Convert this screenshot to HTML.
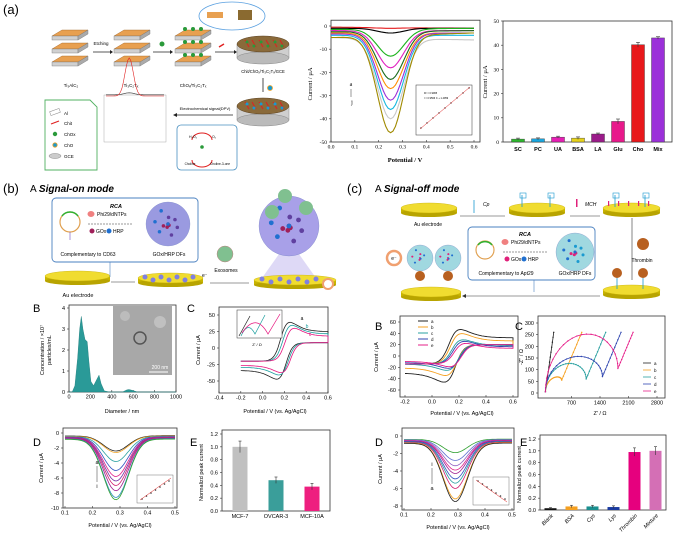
<!DOCTYPE html>
<html><head><meta charset="utf-8"><style>
html,body{margin:0;padding:0;background:#fff;}
svg{display:block;font-family:"Liberation Sans",Arial,sans-serif;}
</style></head><body>
<svg id="fig" width="676" height="542" viewBox="0 0 676 542" xmlns="http://www.w3.org/2000/svg">
<text x="3" y="14" font-size="13">(a)</text>
<text x="3" y="193" font-size="13">(b)</text>
<text x="347" y="193" font-size="13">(c)</text>
<text x="30" y="192" font-size="10">A <tspan font-style="italic" font-weight="bold">Signal-on mode</tspan></text>
<text x="375" y="192" font-size="10">A <tspan font-style="italic" font-weight="bold">Signal-off mode</tspan></text>
<g font-size="11">
<text x="33" y="312">B</text><text x="187" y="312">C</text><text x="33" y="446">D</text><text x="190" y="446">E</text>
<text x="375" y="330">B</text><text x="515" y="330">C</text><text x="375" y="446">D</text><text x="520" y="446">E</text>
</g>
</svg>
<script>
// ---------- DATA ----------
var aDpvPeaks=[-1,-3,-13,-18,-23,-27,-32,-36,-40,-46];
var aDpvStart=[-0.5,-1,-1.5,-2,-2.5,-3,-3.5,-4,-5,-5];
var aDpvEnd=[-1,-1,-1,-2,-2,-3,-3,-4,-6,-3];
var aDpvColors=['#e41a1c','#000','#1db31d','#e020c0','#1a6b1a','#ff8c00','#9b30d9','#17b8e0','#c8c8c8','#a08a00'];
var aBarCats=['SC','PC','UA','BSA','LA','Glu','Cho','Mix'];
var aBarVals=[1.2,1.3,2.0,1.6,3.3,8.5,40.2,43.0];
var aBarErr=[0.4,0.4,0.4,0.5,0.4,1.0,1.0,0.5];
var aBarColors=['#2db82d','#1aa7e0','#e61fb5','#e6d21a','#9b1b8a','#e8198b','#e8181b','#9b30d9'];
var bHistD=[30,55,80,100,115,130,150,170,185,205,230,260,280,300,330,380,500,540,560,590,640,1000];
var bHistC=[0,0.3,1.6,3.0,3.6,3.0,2.5,2.4,1.5,0.5,0.3,0.6,0.8,0.4,0.05,0,0,0.1,0.12,0.08,0,0];
var bCvAnodic=[45,40,35];
var bCvCathodic=[-53,-46,-42];
var bCvColors=['#222','#1a9e9e','#e6157e'];
var bDpvPeaks=[-2.4,-2.6,-3.8,-5.0,-5.8,-6.4,-7.0,-7.7,-8.6,-8.9];
var bDpvColors=['#222','#f0a020','#2aa0a0','#3050c0','#e0208a','#7030a0','#d02070','#a02090','#3090c0','#30a030'];
var bBarCats=['MCF-7','OVCAR-3','MCF-10A'];
var bBarVals=[1.0,0.48,0.38];
var bBarErr=[0.09,0.05,0.05];
var bBarColors=['#c0c0c0','#3a9e9a','#ee1f7f'];
var cCvAnodic=[53,45,33,30,26];
var cCvCathodic=[-53,-40,-30,-26,-23];
var cColors=['#222','#f5a020','#2aa0a0','#3046b0','#e6208a'];
var cCvLabels=['a','b','c','d','e'];
var cRct=[0,400,1000,1400,1780];
var cArcH=[0,60,120,150,245];
var cArcMin=[0,50,55,65,100];
var cDpvPeaks=[-1.9,-2.8,-3.4,-3.9,-4.3,-4.9,-5.4,-6.0,-7.2,-7.5];
var cDpvColors=['#30a030','#6070d0','#9060c0','#e0208a','#a02090','#3050c0','#2aa0a0','#d02070','#f0a020','#222'];
var cBarCats=['Blank','BSA','Cys','Lys','Thrombin','Mixture'];
var cBarVals=[0.03,0.06,0.06,0.05,0.98,1.0];
var cBarErr=[0.01,0.02,0.02,0.02,0.07,0.07];
var cBarColors=['#111','#f5a020','#1a8f8f','#1a3aa0','#e6007e','#d46fb5'];

// ---------- HELPERS ----------
var SVGNS_='http://www.w3.org/2000/svg';
var rootSvg=document.getElementById('fig');
function mk(tag,a,p){var e=document.createElementNS(SVGNS_,tag);for(var k in a){e.setAttribute(k,a[k]);}(p||rootSvg).appendChild(e);return e;}
function mkText(x,y,s,fs,anc,p,extra){var a={x:x,y:y,'font-size':fs,'text-anchor':anc||'start'};if(extra){for(var k in extra){a[k]=extra[k];}}var t=mk('text',a,p);t.textContent=s;return t;}
function linScale(d0,d1,r0,r1){return function(v){return r0+(v-d0)*(r1-r0)/(d1-d0);};}
function mkGroup(name){var g=mk('g',{});return g;}
function drawFrame(g,x0,y0,x1,y1){mk('rect',{x:x0,y:y0,width:x1-x0,height:y1-y0,fill:'none',stroke:'#333','stroke-width':0.8},g);}
function xTicks(g,X,vals,yb,fs,fmt,ff){vals.forEach(function(v){mk('line',{x1:X(v),x2:X(v),y1:yb,y2:yb-2,stroke:'#333','stroke-width':0.6},g);mkText(X(v),yb+fs+1,fmt?fmt(v):String(v),fs,'middle',g,ff?{'font-family':ff}:null);});}
function yTicks(g,Y,vals,xl,fs,fmt,ff){vals.forEach(function(v){mk('line',{x1:xl,x2:xl+2,y1:Y(v),y2:Y(v),stroke:'#333','stroke-width':0.6},g);mkText(xl-2,Y(v)+fs*0.35,fmt?fmt(v):String(v),fs,'end',g,ff?{'font-family':ff}:null);});}
function yLabel(g,x,y,s,fs,ff){var ex={transform:'rotate(-90 '+x+' '+y+')'};if(ff){ex['font-family']=ff;}mkText(x,y,s,fs,'middle',g,ex);}
function toPath(pts){return pts.map(function(p,i){return (i?'L':'M')+p[0].toFixed(1)+' '+p[1].toFixed(1);}).join('');}
function sigm(z){return 1/(1+Math.exp(-z));}
function safeRun(fn){try{fn();}catch(err){if(window.console){console.log(err);}}}

// ---------- (a) schematic ----------
safeRun(function(){
 var g=mkGroup('a-schematic');
 function stack(x,y,dots){for(var i=0;i<3;i++){var yy=y+i*13;
  mk('polygon',{points:x+','+(yy+6)+' '+(x+10)+','+yy+' '+(x+36)+','+yy+' '+(x+26)+','+(yy+6),fill:'#e8a050',stroke:'#a06020','stroke-width':0.4},g);
  mk('rect',{x:x,y:yy+6,width:26,height:4,fill:'#d0d0d0',stroke:'#777','stroke-width':0.4},g);
  mk('polygon',{points:(x+26)+','+(yy+6)+' '+(x+36)+','+yy+' '+(x+36)+','+(yy+4)+' '+(x+26)+','+(yy+10),fill:'#aaa',stroke:'#777','stroke-width':0.4},g);
  if(dots){for(var k=0;k<3;k++){mk('circle',{cx:x+10+k*8,cy:yy-1,r:2,fill:'#2a9a3a'},g);}}}}
 stack(52,30,false);stack(114,30,false);stack(175,30,true);
 mkText(71,87,'Ti₃AlC₂',4.5,'middle',g);mkText(131,87,'Ti₃C₂Tₓ',4.5,'middle',g);mkText(193,87,'ChOₓ/Ti₃C₂Tₓ',4.5,'middle',g);
 mkText(101,45,'Etching',4.5,'middle',g);
 var arrs=[[93,110],[153,170],[215,234]];
 arrs.forEach(function(a){mk('line',{x1:a[0],x2:a[1],y1:52,y2:52,stroke:'#222','stroke-width':0.8},g);mk('polygon',{points:a[1]+',50 '+(a[1]+3)+',52 '+a[1]+',54',fill:'#222'},g);});
 mk('circle',{cx:162,cy:44,r:2.5,fill:'#2a9a3a'},g);
 mk('line',{x1:219,y1:47,x2:224,y2:44,stroke:'#e02020','stroke-width':1.4},g);
 mk('ellipse',{cx:232,cy:16,rx:33,ry:14,fill:'#fff',stroke:'#5aa0e0','stroke-width':0.8},g);
 mk('rect',{x:207,y:12,width:16,height:6,fill:'#e8a050'},g);mk('rect',{x:238,y:10,width:14,height:10,fill:'#8a6a30'},g);
 function disc(cx,cy,blue){mk('rect',{x:cx-26,y:cy,width:52,height:14,fill:'#cfcfcf',stroke:'#888','stroke-width':0.5},g);
  mk('ellipse',{cx:cx,cy:cy+14,rx:26,ry:6,fill:'#bbb',stroke:'#888','stroke-width':0.5},g);
  mk('ellipse',{cx:cx,cy:cy,rx:26,ry:8,fill:'#8a6a3a',stroke:'#5a4020','stroke-width':0.5},g);
  for(var k=0;k<6;k++){mk('line',{x1:cx-18+k*7,y1:cy-4,x2:cx-14+k*7,y2:cy+3,stroke:'#e02020','stroke-width':1},g);
   mk('circle',{cx:cx-16+k*7,cy:cy+(k%2?2:-2),r:1.5,fill:blue?'#1a9ad0':'#2a9a3a'},g);}}
 disc(263,44,false);disc(263,106,true);
 mkText(263,73,'Chit/ChOₓ/Ti₃C₂Tₓ/GCE',4.2,'middle',g);
 mk('line',{x1:263,y1:78,x2:263,y2:92,stroke:'#222','stroke-width':0.8},g);
 mk('circle',{cx:270,cy:88,r:2.5,fill:'#1a9ad0',stroke:'#f0a020','stroke-width':0.8},g);
 mk('line',{x1:177,y1:115,x2:233,y2:115,stroke:'#222','stroke-width':0.8},g);mk('polygon',{points:'177,113 173,115 177,117',fill:'#222'},g);
 mkText(205,110,'Electrochemical signal(DPV)',4,'middle',g);
 mk('rect',{x:177,y:125,width:60,height:45,rx:4,fill:'none',stroke:'#4a90c0','stroke-width':0.8},g);
 mk('path',{d:'M192 140 A10 7 0 0 1 212 140 M192 160 A10 7 0 0 0 212 160',fill:'none',stroke:'#e02020','stroke-width':1},g);
 mkText(193,138,'H₂O₂',3.5,'middle',g);mkText(214,138,'O₂',3.5,'middle',g);mk('circle',{cx:202,cy:147,r:1.8,fill:'#2a9a3a'},g);
 mkText(190,165,'Choline',3.2,'middle',g);mkText(220,165,'Choline-3-one',3.2,'middle',g);
 mk('path',{d:'M45 100 L90 100 L97 107 L97 170 L45 170 Z',fill:'none',stroke:'#50b060','stroke-width':0.9},g);
 var leg=[['Al',113],['Chit',123],['ChOx',134],['ChO',145],['GCE',156]];
 leg.forEach(function(r){mkText(64,r[1]+2,r[0],4.5,'start',g);});
 mk('rect',{x:50,y:110,width:10,height:4,fill:'none',stroke:'#888','stroke-width':0.5,transform:'rotate(-20 55 112)'},g);
 mk('line',{x1:51,y1:124,x2:59,y2:121,stroke:'#e02020','stroke-width':1.2},g);
 mk('circle',{cx:55,cy:134,r:2.2,fill:'#2a9a3a'},g);mk('circle',{cx:55,cy:145,r:2.2,fill:'#1a9ad0',stroke:'#f0a020','stroke-width':0.8},g);
 mk('ellipse',{cx:55,cy:156,rx:6,ry:2.5,fill:'#ccc',stroke:'#888','stroke-width':0.5},g);
 mk('rect',{x:104,y:95,width:62,height:47,fill:'none',stroke:'#999','stroke-width':0.4},g);
 var mx=linScale(0,1,106,164),my=linScale(0,-1,98,138);var p1=[],p2=[];
 for(var i=0;i<=40;i++){var t=i/40;p1.push([mx(t),my(0.08+0.05*Math.exp(-Math.pow((t-0.4)/0.12,2)))]);p2.push([mx(t),my(0.05+0.95*Math.exp(-Math.pow((t-0.4)/0.1,2)))]);}
 mk('path',{d:toPath(p1),fill:'none',stroke:'#333','stroke-width':0.6},g);mk('path',{d:toPath(p2),fill:'none',stroke:'#e02020','stroke-width':0.6},g);
});

// ---------- (a) DPV ----------
safeRun(function(){
 var g=mkGroup('a-dpv-chart');var X=linScale(0,0.6,331,474),Y=linScale(0,-50,26,142);
 drawFrame(g,331,Y(2.5),480,142);
 xTicks(g,X,[0,0.1,0.2,0.3,0.4,0.5,0.6],142,5.5,function(v){return v.toFixed(1);},'Liberation Serif');
 yTicks(g,Y,[0,-10,-20,-30,-40,-50],329,5.5,null,'Liberation Serif');
 yLabel(g,312,84,'Current / μA',6.5,'Liberation Serif');
 mkText(405,162,'Potential / V',6.5,'middle',g,{'font-family':'Liberation Serif','font-weight':'bold'});
 aDpvPeaks.forEach(function(pk,i){var pts=[];var b0=aDpvStart[i],b1=aDpvEnd[i];
  for(var k=0;k<=60;k++){var e=k/60*0.6;var base=b0+(b1-b0)*e/0.6;var gs=Math.exp(-Math.pow((e-0.25)/0.055,2)/2);pts.push([X(e),Y(base*(1-gs)+pk*gs)]);}
  var p=mk('path',{d:toPath(pts),fill:'none',stroke:aDpvColors[i],'stroke-width':1.1},g);
  
  });
 mkText(351,86,'a',6,'middle',g,{'font-family':'Liberation Serif'});mk('line',{x1:351,y1:89,x2:351,y2:97,stroke:'#333','stroke-width':0.5},g);mkText(352,104,'j',6,'middle',g,{'font-family':'Liberation Serif'});
 mk('rect',{x:416,y:85,width:56,height:50,fill:'#fff',stroke:'#333','stroke-width':0.5},g);
 for(var k=0;k<9;k++){mk('circle',{cx:421+k*6,cy:128-k*5,r:0.7,fill:'#333'},g);}
 mk('line',{x1:420,y1:129,x2:470,y2:87,stroke:'#e02020','stroke-width':0.5},g);
 mkText(424,94,'R² = 0.9965',2.5,'start',g);mkText(424,99,'I = 0.9566 C + 1.4959',2.5,'start',g);
});

// ---------- (a) bar chart ----------
safeRun(function(){
 var g=mkGroup('a-selectivity-bars');var Y=linScale(0,50,142,21);var step=(668-508)/8;
 drawFrame(g,503,21,672,142);
 yTicks(g,Y,[0,10,20,30,40,50],501,5.5,null,'Liberation Serif');
 yLabel(g,487,82,'Current / μA',6.5,'Liberation Serif');
 aBarVals.forEach(function(v,i){var cx=508+step*(i+0.5);
  var r=mk('rect',{x:cx-6.5,y:Y(v),width:13,height:142-Y(v),fill:aBarColors[i],stroke:'#333','stroke-width':0.4},g);
  
  
  mk('line',{x1:cx,x2:cx,y1:Y(v+aBarErr[i]),y2:Y(v-aBarErr[i]),stroke:'#333','stroke-width':0.6},g);
  mk('line',{x1:cx-2,x2:cx+2,y1:Y(v+aBarErr[i]),y2:Y(v+aBarErr[i]),stroke:'#333','stroke-width':0.6},g);
  mkText(cx,151,aBarCats[i],5.5,'middle',g,{'font-weight':'bold'});});
});

// ---------- shared schematic helpers ----------
function electrode(g,x0,x1,y){var cx=(x0+x1)/2,rx=(x1-x0)/2;
 mk('rect',{x:x0,y:y,width:x1-x0,height:5,fill:'#c8b400'},g);mk('ellipse',{cx:cx,cy:y+5,rx:rx,ry:4,fill:'#b8a400'},g);
 mk('ellipse',{cx:cx,cy:y,rx:rx,ry:5,fill:'#f0dc30',stroke:'#c8b000','stroke-width':0.4},g);}
function dfsphere(g,cx,cy,r,base,dots){mk('circle',{cx:cx,cy:cy,r:r,fill:base,stroke:'#7080c0','stroke-width':0.3},g);
 for(var k=0;k<dots.length*4;k++){var a=k*2.4,rr=r*0.75*((k*37%10)/10);mk('circle',{cx:cx+rr*Math.cos(a),cy:cy+rr*Math.sin(a),r:r*0.08,fill:dots[k%dots.length]},g);}}

// ---------- (b) schematic ----------
safeRun(function(){
 var g=mkGroup('b-schematic');
 mk('rect',{x:52,y:198,width:146,height:64,rx:4,fill:'#fff',stroke:'#4a80c0','stroke-width':0.9},g);
 mkText(116,208,'RCA',5.5,'middle',g,{'font-weight':'bold','font-style':'italic'});
 mk('circle',{cx:70,cy:222,r:10,fill:'none',stroke:'#e0a050','stroke-width':1.2},g);
 mk('path',{d:'M62 216 A10 10 0 0 1 78 216',fill:'none',stroke:'#30b030','stroke-width':1.5},g);
 mk('line',{x1:70,y1:232,x2:70,y2:240,stroke:'#7050c0','stroke-width':0.6},g);
 mk('ellipse',{cx:91,cy:214,rx:3.5,ry:3,fill:'#f08080'},g);mkText(97,216,'Phi29/dNTPs',5,'start',g);
 mk('line',{x1:88,y1:224,x2:133,y2:224,stroke:'#333','stroke-width':0.6,'stroke-dasharray':'2,1'},g);
 mk('circle',{cx:92,cy:231,r:2.5,fill:'#a0205a'},g);mkText(96,233,'GOx',5,'start',g);mk('circle',{cx:109,cy:231,r:2.5,fill:'#2070d0'},g);mkText(113,233,'HRP',5,'start',g);
 dfsphere(g,168,224,22,'#9a9ae0',['#a0205a','#2070d0','#6040a0']);
 mkText(88,256,'Complementary to CD63',5,'middle',g);mkText(169,256,'GOx/HRP DFs',5,'middle',g);
 electrode(g,45,110,276);mkText(78,297,'Au electrode',5.5,'middle',g);
 mk('line',{x1:111,y1:282,x2:135,y2:282,stroke:'#333','stroke-width':0.6},g);
 mk('line',{x1:110,y1:262,x2:110,y2:277,stroke:'#4a80c0','stroke-width':0.6},g);
 electrode(g,138,203,278);for(var k=0;k<7;k++){mk('circle',{cx:145+k*8,cy:278+(k%2?2:-1),r:2.5,fill:'#8080e0'},g);}
 mkText(202,277,'e⁻',5,'start',g);
 mk('circle',{cx:225,cy:254,r:8,fill:'#80c090',stroke:'#c08080','stroke-width':0.5},g);
 mkText(226,272,'Exosomes',5,'middle',g);mk('line',{x1:210,y1:283,x2:249,y2:283,stroke:'#333','stroke-width':0.6},g);
 mk('polygon',{points:'262,278 289,240 316,278',fill:'#c8c0f0',opacity:0.6},g);
 electrode(g,254,336,280);for(var j=0;j<8;j++){mk('circle',{cx:262+j*9,cy:280+(j%2?2:-1),r:2.5,fill:'#8080e0'},g);}
 dfsphere(g,289,226,30,'#a8a0e8',['#a0205a','#2070d0','#6040a0']);
 mk('circle',{cx:285,cy:196,r:7,fill:'#80c090'},g);mk('circle',{cx:272,cy:212,r:7,fill:'#80c090'},g);mk('circle',{cx:306,cy:208,r:7,fill:'#80c090'},g);
 mk('circle',{cx:328,cy:284,r:5,fill:'#fff',stroke:'#f0a070','stroke-width':2},g);
});

// ---------- (c) schematic ----------
safeRun(function(){
 var g=mkGroup('c-schematic');
 function probe(x,y0,y1){mk('line',{x1:x,y1:y0,x2:x,y2:y1,stroke:'#1a9ad0','stroke-width':0.8},g);mk('rect',{x:x-2,y:y1-2,width:6,height:5,fill:'none',stroke:'#1a9ad0','stroke-width':0.6},g);}
 electrode(g,401,457,208);mkText(428,226,'Au electrode',5,'middle',g);
 mk('line',{x1:460,y1:216,x2:505,y2:216,stroke:'#333','stroke-width':0.6},g);
 mk('line',{x1:474,y1:200,x2:474,y2:213,stroke:'#1a9ad0','stroke-width':0.8},g);mkText(483,206,'Cp',5,'start',g,{'font-style':'italic'});
 electrode(g,509,565,208);probe(522,207,195);probe(550,207,195);
 mk('line',{x1:570,y1:216,x2:600,y2:216,stroke:'#333','stroke-width':0.6},g);mk('rect',{x:576,y:199,width:1.5,height:8,fill:'#e0207a'},g);mkText(585,206,'MCH',5,'start',g,{'font-style':'italic'});
 electrode(g,603,660,208);probe(615,207,195);probe(645,207,195);
 for(var k=0;k<5;k++){mk('rect',{x:608+k*10,y:201,width:1.2,height:5,fill:'#e0207a'},g);}
 mk('line',{x1:632,y1:218,x2:632,y2:280,stroke:'#333','stroke-width':0.6},g);
 mk('circle',{cx:643,cy:244,r:6,fill:'#b86020'},g);mkText(642,262,'Thrombin',5,'middle',g);
 mk('rect',{x:468,y:227,width:127,height:53,rx:4,fill:'#fff',stroke:'#4a80c0','stroke-width':0.9},g);
 mkText(525,236,'RCA',5.5,'middle',g,{'font-weight':'bold','font-style':'italic'});
 mk('circle',{cx:485,cy:250,r:9,fill:'none',stroke:'#e0a050','stroke-width':1.2},g);
 mk('path',{d:'M478 245 A9 9 0 0 1 492 245',fill:'none',stroke:'#30b030','stroke-width':1.5},g);
 mk('ellipse',{cx:505,cy:242,rx:3.5,ry:3,fill:'#f08080'},g);mkText(511,244,'Phi29/dNTPs',5,'start',g);
 mk('line',{x1:503,y1:252,x2:548,y2:252,stroke:'#333','stroke-width':0.6,'stroke-dasharray':'2,1'},g);
 mk('circle',{cx:507,cy:259,r:2.5,fill:'#e0207a'},g);mkText(511,261,'GOx',5,'start',g);mk('circle',{cx:524,cy:259,r:2.5,fill:'#2070d0'},g);mkText(528,261,'HRP',5,'start',g);
 dfsphere(g,575,252,19,'#a0d8e0',['#e0207a','#2070d0','#1a9ad0']);
 mkText(506,275,'Complementary to Apt29',5,'middle',g);mkText(575,275,'GOx/HRP DFs',5,'middle',g);
 electrode(g,603,660,290);
 mk('line',{x1:617,y1:289,x2:617,y2:275,stroke:'#1a9ad0','stroke-width':0.8},g);mk('circle',{cx:617,cy:273,r:5,fill:'#b86020'},g);
 mk('line',{x1:643,y1:289,x2:643,y2:275,stroke:'#1a9ad0','stroke-width':0.8},g);mk('circle',{cx:643,cy:273,r:5,fill:'#b86020'},g);
 mk('line',{x1:600,y1:296,x2:466,y2:296,stroke:'#333','stroke-width':0.6},g);mk('polygon',{points:'466,294 462,296 466,298',fill:'#333'},g);
 mk('line',{x1:534,y1:280,x2:534,y2:292,stroke:'#4a80c0','stroke-width':0.6},g);
 electrode(g,401,461,292);
 dfsphere(g,420,258,13,'#a0d8e0',['#e0207a','#2070d0']);dfsphere(g,448,258,13,'#a0d8e0',['#e0207a','#2070d0']);
 mk('circle',{cx:420,cy:276,r:5,fill:'#b86020'},g);mk('circle',{cx:448,cy:276,r:5,fill:'#b86020'},g);
 mk('circle',{cx:394,cy:258,r:7,fill:'#fff',stroke:'#f0a070','stroke-width':2.5},g);mkText(394,260,'e⁻',5,'middle',g);
});

// ---------- (b) B histogram ----------
safeRun(function(){
 var g=mkGroup('b-size-distribution');var X=linScale(0,1000,69,176),Y=linScale(0,1,392,371);
 drawFrame(g,69,305,176,392);
 xTicks(g,X,[0,200,400,600,800,1000],392,5.5);yTicks(g,Y,[0,1,2,3,4],67,5.5);
 yLabel(g,44,350,'Concentration / ×10⁷',5.5);yLabel(g,51,350,'particles/mL',5.5);
 mkText(122,413,'Diameter / nm',5.5,'middle',g);
 var pts=bHistD.map(function(d,i){return [X(d),Y(bHistC[i])];});
 var p=mk('path',{d:toPath(pts)+'L'+X(1000)+' '+Y(0)+'L'+X(0)+' '+Y(0)+'Z',fill:'#2a9a98',stroke:'#1a7a78','stroke-width':0.4},g);
 
 
 mk('rect',{x:113,y:306,width:59,height:69,fill:'#a8a8a8'},g);
 mk('circle',{cx:140,cy:338,r:6,fill:'none',stroke:'#555','stroke-width':1.5},g);
 mk('circle',{cx:160,cy:322,r:6,fill:'#c0c0c0'},g);mk('circle',{cx:125,cy:316,r:5,fill:'#bcbcbc'},g);
 mk('line',{x1:149,y1:372,x2:168,y2:372,stroke:'#fff','stroke-width':1},g);mkText(160,369,'200 nm',5,'middle',g,{fill:'#fff'});
});

// ---------- CV helper ----------
function cvPath(X,Y,Ep,ia,ic,base,topv){var f=[],r=[],k,e,s;
 for(k=0;k<=80;k++){e=-0.2+0.8*k/80;s=sigm((e-Ep+0.06)/0.03)*(1-0.45*sigm((e-Ep-0.02)/0.07));f.push([X(e),Y(base+(ia-base)*s/0.8)]);}
 for(k=0;k<=80;k++){e=0.6-0.8*k/80;s=sigm((Ep-0.02-e)/0.03)*(1-0.45*sigm((Ep-0.1-e)/0.07));r.push([X(e),Y(topv+(ic-topv)*s/0.8)]);}
 return toPath(f.concat(r));}

// ---------- (b) C CV ----------
safeRun(function(){
 var g=mkGroup('b-cv-chart');var X=linScale(-0.4,0.6,219,328),Y=linScale(0,50,348,315);
 drawFrame(g,219,307,328,393);
 xTicks(g,X,[-0.4,-0.2,0,0.2,0.4,0.6],393,5.5,function(v){return v.toFixed(1);});yTicks(g,Y,[-50,-25,0,25,50],217,5.5);
 yLabel(g,200,350,'Current / μA',5.5);mkText(275,413,'Potential / V (vs. Ag/AgCl)',5.5,'middle',g);
 bCvAnodic.forEach(function(a,i){var p=mk('path',{d:cvPath(X,Y,0.23+i*0.02,a,bCvCathodic[i],-20,8),fill:'none',stroke:bCvColors[i],'stroke-width':0.8},g);
  
  });
 mkText(302,320,'a',5,'middle',g);mkText(307,328,'b',5,'middle',g,{fill:'#1a9e9e'});mkText(310,336,'c',5,'middle',g,{fill:'#e6157e'});
 mk('rect',{x:237,y:310,width:45,height:28,fill:'#fff',stroke:'#333','stroke-width':0.5},g);
 mkText(257,346,"Z' / Ω",4,'middle',g);
 mk('path',{d:'M239 336 L250 316',fill:'none',stroke:'#222','stroke-width':0.7},g);
 mk('path',{d:'M241 336 Q248 320 255 334 L265 315',fill:'none',stroke:'#1a9e9e','stroke-width':0.7},g);
 mk('path',{d:'M242 333 Q256 312 268 334 L280 314',fill:'none',stroke:'#e6157e','stroke-width':0.7},g);
});

// ---------- (c) B CV ----------
safeRun(function(){
 var g=mkGroup('c-cv-chart');var X=linScale(-0.2,0.6,405,513),Y=linScale(0,60,356,322);
 drawFrame(g,400,316,518,397);
 xTicks(g,X,[-0.2,0,0.2,0.4,0.6],397,5.5,function(v){return v.toFixed(1);});yTicks(g,Y,[-60,-40,-20,0,20,40,60],398,5.5);
 yLabel(g,378,357,'Current / μA',5.5);mkText(462,415,'Potential / V (vs. Ag/AgCl)',5.5,'middle',g);
 cCvAnodic.forEach(function(a,i){var p=mk('path',{d:cvPath(X,Y,0.19+i*0.01,a,cCvCathodic[i],-14,20),fill:'none',stroke:cColors[i],'stroke-width':0.9},g);
  
  
  mk('line',{x1:418,x2:428,y1:321+i*6,y2:321+i*6,stroke:cColors[i],'stroke-width':1},g);mkText(431,323+i*6,cCvLabels[i],4.5,'start',g);});
});

// ---------- (c) C Nyquist ----------
safeRun(function(){
 var g=mkGroup('c-nyquist-chart');var X=linScale(0,2800,543,657),Y=linScale(0,300,393,323);
 drawFrame(g,538,316,665,398);
 xTicks(g,X,[700,1400,2100,2800],398,5.5);yTicks(g,Y,[0,50,100,150,200,250,300],536,5.5);
 yLabel(g,523,357,"-Z'' / Ω",5.5);mkText(600,415,"Z' / Ω",5.5,'middle',g);
 cRct.forEach(function(R,i){var pts=[];var Rs=60;var k;
  if(R===0){pts.push([X(Rs),Y(5)]);}
  for(k=0;k<=24&&R>0;k++){var t=Math.PI*k/24;pts.push([X(Rs+R/2*(1-Math.cos(t))),Y((cArcH[i]-cArcMin[i]/2)*Math.sin(t)+cArcMin[i]*t/Math.PI+5)]);}
  var x0=Rs+R;var y0=R>0?cArcMin[i]+5:5;
  for(k=1;k<=12;k++){var yy=y0+k*(260-y0)/12;pts.push([X(x0+(yy-y0)*(R>0?2.4:0.8)),Y(yy)]);}
  var p=mk('path',{d:toPath(pts),fill:'none',stroke:cColors[i],'stroke-width':0.8},g);
  
  
  pts.forEach(function(q){mk('circle',{cx:q[0],cy:q[1],r:0.7,fill:cColors[i]},g);});
  mk('line',{x1:643,x2:651,y1:363+i*7,y2:363+i*7,stroke:cColors[i],'stroke-width':0.8},g);mkText(654,365+i*7,cCvLabels[i],4.5,'start',g);});
});

// ---------- DPV panels D ----------
function dpvPanel(name,peaks,colors,Ep,x0,x1,yv,yPix0,yPixV,yticks,ytop,ybot,labTop,labBot,ax,insetX,rising){
 var g=mkGroup(name);var X=linScale(0.1,0.5,x0,x1),Y=linScale(0,yv,yPix0,yPixV);
 drawFrame(g,x0-2,ytop,x1+2,ybot);
 xTicks(g,X,[0.1,0.2,0.3,0.4,0.5],ybot,5.5,function(v){return v.toFixed(1);});yTicks(g,Y,yticks,x0-4,5.5);
 yLabel(g,x0-22,(ytop+ybot)/2,'Current / μA',5.5);mkText((x0+x1)/2,ybot+19,'Potential / V (vs. Ag/AgCl)',5.5,'middle',g);
 peaks.forEach(function(pk,i){var pts=[];for(var k=0;k<=60;k++){var e=0.1+0.4*k/60;var base=-0.4-0.05*i+0.1*(e-0.1);
  pts.push([X(e),Y(base+(pk-base)*Math.exp(-Math.pow((e-Ep)/0.045,2)/2))]);}
  var p=mk('path',{d:toPath(pts),fill:'none',stroke:colors[i],'stroke-width':0.8},g);
  
  });
 mkText(ax,labTop[1],labTop[0],5.5,'middle',g);mk('line',{x1:ax,x2:ax,y1:labTop[1]+2,y2:labBot[1]-6,stroke:'#333','stroke-width':0.5},g);mkText(ax,labBot[1],labBot[0],5.5,'middle',g);
 mk('rect',{x:insetX,y:ybot-33,width:36,height:28,fill:'#fff',stroke:'#555','stroke-width':0.4},g);
 for(var k=0;k<7;k++){mk('circle',{cx:insetX+5+k*4.5,cy:rising?(ybot-9-k*3):(ybot-29+k*3),r:0.8,fill:'#333'},g);}
 mk('line',{x1:insetX+3,x2:insetX+34,y1:rising?ybot-8:ybot-30,y2:rising?ybot-30:ybot-8,stroke:'#e02020','stroke-width':0.5},g);
}
safeRun(function(){dpvPanel('b-dpv-chart',bDpvPeaks,bDpvColors,0.285,65,175,-10,433,508,[0,-2,-4,-6,-8,-10],428,508,['a',464],['i',488],97,137,true);});
safeRun(function(){dpvPanel('c-dpv-chart',cDpvPeaks,cDpvColors,0.29,404,512,-8,436,506,[0,-2,-4,-6,-8],428,510,['i',466],['a',490],432,473,false);});

// ---------- bar panels E ----------
function barPanel(name,cats,vals,errs,colors,x0,x1,yb,ytopv,bw,rot){
 var g=mkGroup(name);var Y=linScale(0,1.2,yb,ytopv);var step=(x1-x0)/cats.length;
 drawFrame(g,x0,ytopv-4,x1,yb);yTicks(g,Y,[0,0.2,0.4,0.6,0.8,1.0,1.2],x0-2,5.5,function(v){return v.toFixed(1);});
 yLabel(g,x0-19,(yb+ytopv)/2,'Normalizd peak current',5.5);
 vals.forEach(function(v,i){var cx=x0+step*(i+0.5);
  var r=mk('rect',{x:cx-bw/2,y:Y(v),width:bw,height:yb-Y(v),fill:colors[i]},g);
  
  
  mk('line',{x1:cx,x2:cx,y1:Y(v+errs[i]),y2:Y(Math.max(0,v-errs[i])),stroke:'#333','stroke-width':0.6},g);
  mk('line',{x1:cx-1.5,x2:cx+1.5,y1:Y(v+errs[i]),y2:Y(v+errs[i]),stroke:'#333','stroke-width':0.6},g);
  if(rot){mkText(cx+3,yb+6,cats[i],5.5,'end',g,{transform:'rotate(-45 '+(cx+3)+' '+(yb+6)+')','font-style':'italic'});}
  else{mkText(cx,yb+7,cats[i],5.5,'middle',g);}});
}
safeRun(function(){barPanel('b-peak-bars',bBarCats,bBarVals,bBarErr,bBarColors,222,330,511,434,15,false);});
safeRun(function(){barPanel('c-peak-bars',cBarCats,cBarVals,cBarErr,cBarColors,540,666,510,439,12,true);});
</script>
</body></html>
